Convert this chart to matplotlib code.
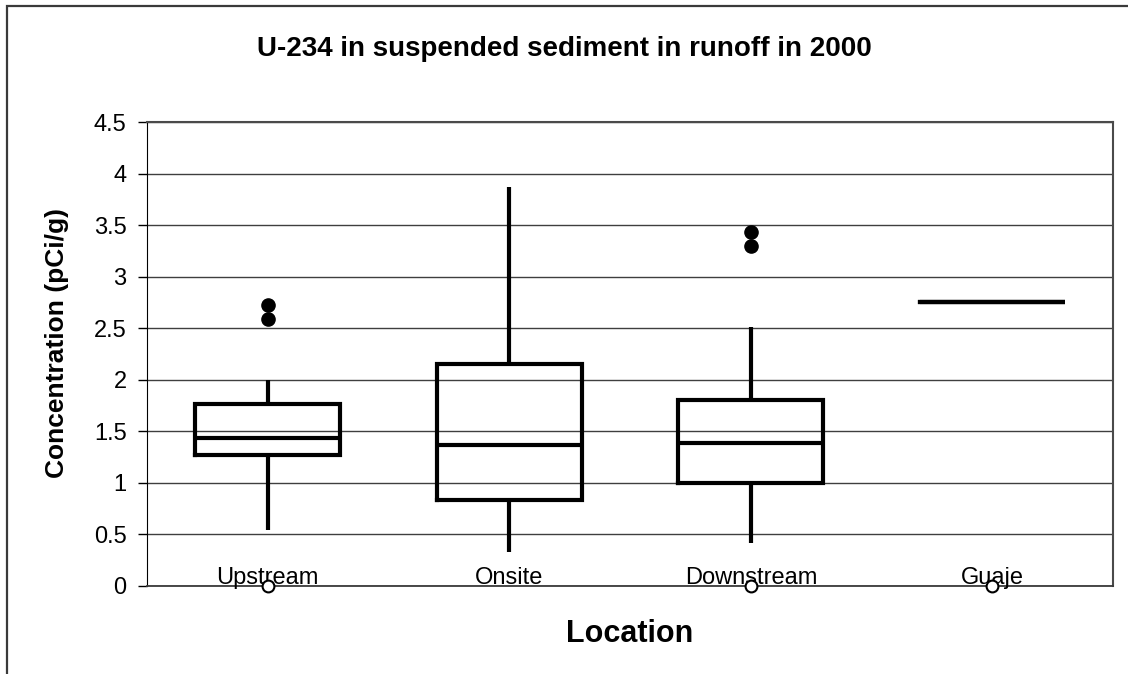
"""
Box plot of U-234 in suspended sediment in runoff (2000), Excel-style.
"""

import matplotlib
matplotlib.use('Agg')
import matplotlib.pyplot as plt
import matplotlib.transforms as mtransforms
from matplotlib.patches import Rectangle
import numpy as np

# Data
locations = ['Upstream', 'Onsite', 'Downstream', 'Guaje']
whisker_low = [0.54, 0.33, 0.415, 2.755]
quartile_1 = [1.265, 0.83, 1.0, 2.755]
medians = [1.435, 1.37, 1.385, 2.755]
quartile_3 = [1.765, 2.15, 1.805, 2.755]
whisker_high = [2.0, 3.875, 2.51, 2.755]
outliers = [[2.59, 2.73], [], [3.3, 3.435], []]

# open circles sitting on the axis (separate series in the original)
zero_locations = [1, 3, 4]
zero_values = [0, 0, 0]

y_ticks = [0, 0.5, 1, 1.5, 2, 2.5, 3, 3.5, 4, 4.5]
y_tick_labels = ['0', '0.5', '1', '1.5', '2', '2.5', '3', '3.5', '4', '4.5']

plt.rcParams['font.family'] = ['Liberation Sans', 'DejaVu Sans']

fig = plt.figure(figsize=(11.28, 6.74), dpi=100)
ax = fig.add_axes([146.7 / 1128, 88.3 / 674, 966.6 / 1128, 463.4 / 674])

# outer chart frame (runs off the right and bottom edges)
fig.patches.append(Rectangle((6.7 / 1128, -0.2), 1.2, 1.2 - 5.7 / 674,
                             transform=fig.transFigure, fill=False,
                             edgecolor='#3a3a3a', linewidth=1.6))

positions = np.arange(1, len(locations) + 1)
stats = []
for i, name in enumerate(locations):
    stats.append({
        'label': name,
        'whislo': whisker_low[i],
        'q1': quartile_1[i],
        'med': medians[i],
        'q3': quartile_3[i],
        'whishi': whisker_high[i],
        'fliers': outliers[i],
    })

line_kw = dict(color='black', linewidth=3.0, solid_capstyle='butt')
ax.bxp(stats, positions=positions, widths=0.6, showcaps=False,
       boxprops=dict(color='black', linewidth=3.0,
                     solid_capstyle='projecting', solid_joinstyle='miter'),
       whiskerprops=line_kw, medianprops=line_kw,
       flierprops=dict(marker='o', markerfacecolor='black',
                       markeredgecolor='black', markersize=9.5),
       manage_ticks=False, zorder=3)

ax.plot(zero_locations, zero_values, linestyle='none', marker='o',
        markersize=8.5, markerfacecolor='white', markeredgecolor='black',
        markeredgewidth=1.5, clip_on=False, zorder=6)

# category names sit just inside the plot, on the zero line
offset = mtransforms.offset_copy(ax.transData, fig=fig, x=0, y=1.5, units='dots')
for pos, name in zip(positions, locations):
    ax.text(pos, 0, name, transform=offset, ha='center', va='baseline',
            fontsize=17, zorder=5)

ax.set_xlim(0.5, len(locations) + 0.5)
ax.set_ylim(0, 4.5)
ax.set_yticks(y_ticks)
ax.set_yticklabels(y_tick_labels)
ax.set_xticks([])
ax.tick_params(axis='y', direction='out', length=6.5, width=1, pad=8,
               labelsize=17)
ax.yaxis.grid(True, color='#3f3f3f', linewidth=1.0)
ax.set_axisbelow(True)

for side in ['top', 'right']:
    ax.spines[side].set_color('#4a4a4a')
    ax.spines[side].set_linewidth(1.5)
ax.spines['left'].set_color('black')
ax.spines['bottom'].set_color('#3a3a3a')
ax.spines['bottom'].set_linewidth(1.3)

fig.text(0.5, 1 - 56 / 674, 'U-234 in suspended sediment in runoff in 2000',
         ha='center', va='baseline', fontsize=20, fontweight='bold')
fig.text(630 / 1128, 1 - 641.7 / 674, 'Location', ha='center',
         va='baseline', fontsize=22, fontweight='bold')
fig.text(57 / 1128, 1 - 343.5 / 674, 'Concentration (pCi/g)', rotation=90,
         ha='center', va='center', fontsize=19, fontweight='bold')

fig.savefig('out.png', dpi=100)
